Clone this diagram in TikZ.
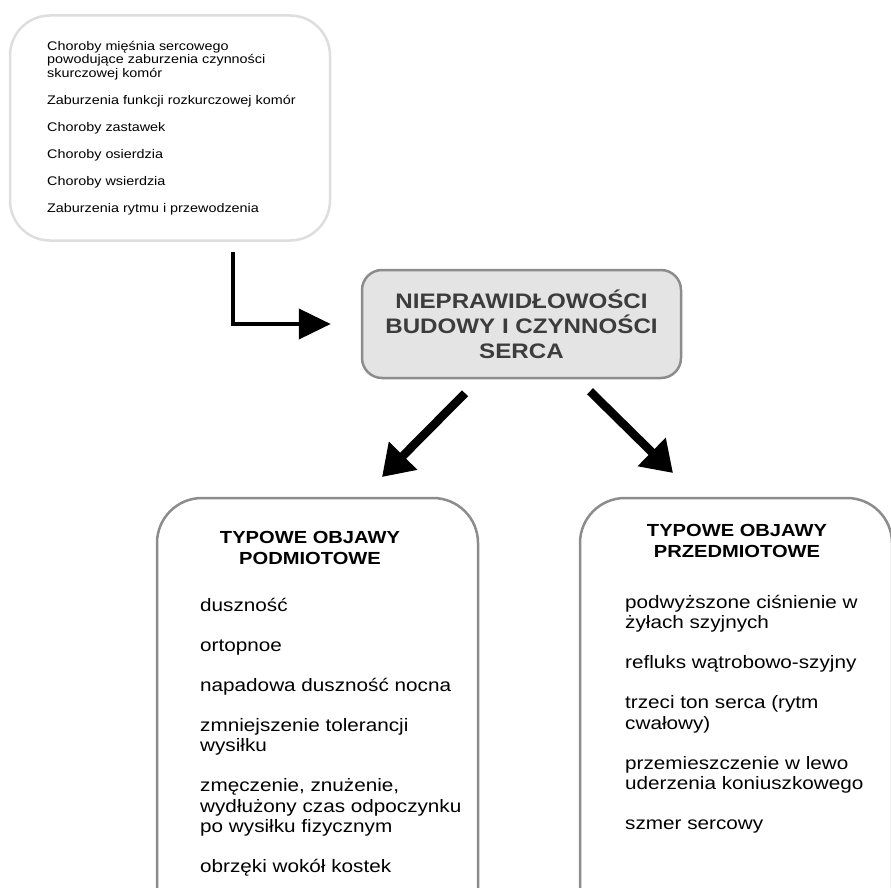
\documentclass[tikz,border=0pt]{standalone}
\usepackage{fontspec}
\setmainfont[FakeStretch=1.15]{Liberation Sans}
\usepackage{xcolor}
\usepackage{tikz}
\usetikzlibrary{arrows.meta, positioning, calc}
\definecolor{lightborder}{RGB}{222,222,222}
\definecolor{midgray}{RGB}{140,140,140}
\definecolor{boxfill}{RGB}{228,228,228}
\definecolor{titlegray}{RGB}{60,60,60}

\begin{document}
\begin{tikzpicture}[
    x=1pt, y=-1pt,
    listbox/.style={rectangle, rounded corners=45pt, draw=midgray, line width=2.5pt, fill=white},
    mainbox/.style={rectangle, rounded corners=20pt, draw=midgray, line width=2.5pt, fill=boxfill, align=center, text=titlegray, font=\fontsize{21}{25}\selectfont\bfseries},
    heading/.style={align=center, inner sep=0pt, font=\fontsize{17.5}{21}\selectfont\bfseries},
    itemtext/.style={align=left, inner sep=0pt, anchor=north west, font=\fontsize{18}{20.5}\selectfont},
    smalltext/.style={align=left, inner sep=0pt, anchor=north west, font=\fontsize{12.5}{13.5}\selectfont},
    elbow/.style={-{Triangle[length=32pt, width=30pt]}, line width=4pt},
    bigarrow/.style={-{Triangle[length=30pt, width=38pt]}, line width=8.5pt}
]
\useasboundingbox (0,0) rectangle (891,888);
\clip (0,0) rectangle (891,888);

% Causes
\node[listbox, draw=lightborder, rounded corners=40pt, minimum width=320pt, minimum height=225pt] (causes) at (170,128) {};
\node[smalltext] (causelist) at (47,41) {Choroby mięśnia sercowego\\powodujące zaburzenia czynności\\skurczowej komór\\[13.5pt]
Zaburzenia funkcji rozkurczowej komór\\[13.5pt]
Choroby zastawek\\[13.5pt]
Choroby osierdzia\\[13.5pt]
Choroby wsierdzia\\[13.5pt]
Zaburzenia rytmu i przewodzenia};

% Main
\node[mainbox, minimum width=319pt, minimum height=108pt] (heart) at (521.5,324) {NIEPRAWIDŁOWOŚCI\\BUDOWY I CZYNNOŚCI\\SERCA};

% Symptoms
\node[listbox, minimum width=321pt, minimum height=440pt] (subjective) at (317.5,718) {};
\node[listbox, minimum width=312pt, minimum height=440pt] (objective) at (736,718) {};

\node[heading] (subjhead) at (310,548) {TYPOWE OBJAWY\\PODMIOTOWE};
\node[heading] (objhead) at (737,541) {TYPOWE OBJAWY\\PRZEDMIOTOWE};

\node[itemtext] (subjlist) at (200,598) {duszność\\[19.5pt]
ortopnoe\\[19.5pt]
napadowa duszność nocna\\[19.5pt]
zmniejszenie tolerancji\\wysiłku\\[19.5pt]
zmęczenie, znużenie,\\wydłużony czas odpoczynku\\po wysiłku fizycznym\\[19.5pt]
obrzęki wokół kostek};

\node[itemtext] (objlist) at (625,595) {podwyższone ciśnienie w\\żyłach szyjnych\\[19.5pt]
refluks wątrobowo-szyjny\\[19.5pt]
trzeci ton serca (rytm\\cwałowy)\\[19.5pt]
przemieszczenie w lewo\\uderzenia koniuszkowego\\[19.5pt]
szmer sercowy};

% Arrows
\coordinate (lefttip) at (382,477);
\coordinate (righttip) at (673,473);
\draw[elbow, shorten >=30pt] ($(causes.south)+(63,10)$) |- (heart.west);
\draw[bigarrow] ($(heart.south)+(-56.5,14)$) -- (lefttip);
\draw[bigarrow] ($(heart.south)+(68.5,12)$) -- (righttip);
\end{tikzpicture}
\end{document}
